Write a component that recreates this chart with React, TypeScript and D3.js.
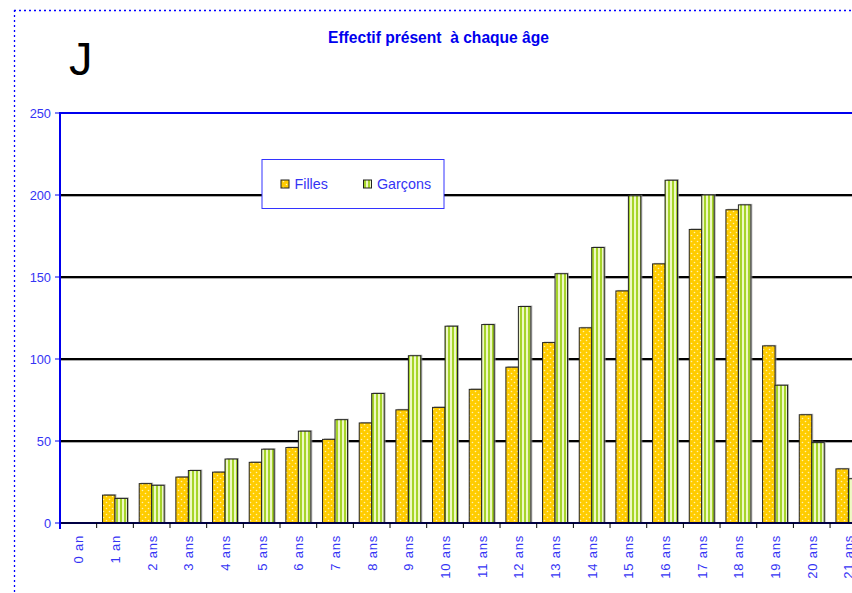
import React from "react";
import * as d3 from "d3";

const categories = ["0 an", "1 an", "2 ans", "3 ans", "4 ans", "5 ans", "6 ans", "7 ans", "8 ans", "9 ans", "10 ans", "11 ans", "12 ans", "13 ans", "14 ans", "15 ans", "16 ans", "17 ans", "18 ans", "19 ans", "20 ans", "21 ans"];
const filles = [0, 17, 24, 28, 31, 37, 46, 51, 61, 69, 70.5, 81.5, 95, 110, 119, 141.5, 158, 179, 191, 108, 66, 33];
const garcons = [0, 15, 23, 32, 39, 45, 56, 63, 79, 102, 120, 121, 132, 152, 168, 199.5, 209, 200, 194, 84, 49, 27];
const yTicks = [0, 50, 100, 150, 200, 250];
const seriesNames = ["Filles", "Garçons"];
const title = "Effectif présent  à chaque âge";

const W = 852;
const H = 593;
const BLUE = "#3434f4";

export default function App() {
  const left = 60;
  const catW = 36.67;
  const x = d3.scaleBand<string>().domain(categories).range([left, left + catW * categories.length]).paddingInner(0).paddingOuter(0);
  const y = d3.scaleLinear().domain([0, 250]).range([523, 113]);
  const bw = x.bandwidth() * 0.34;
  const series = [filles, garcons];
  const fills = ["url(#dots)", "url(#stripes)"];

  return (
    <svg width={W} height={H} style={{ position: "absolute", left: 0, top: 0, fontFamily: "'Liberation Sans', Arial, sans-serif" }}>
      <defs>
        <pattern id="dots" width="6" height="6" patternUnits="userSpaceOnUse">
          <rect width="6" height="6" fill="#FFCC00" />
          <circle cx="1.5" cy="1.5" r="0.8" fill="#FFF3B0" />
          <circle cx="4.5" cy="4.5" r="0.8" fill="#FFF3B0" />
        </pattern>
        <pattern id="stripes" width="4" height="4" patternUnits="userSpaceOnUse">
          <rect width="4" height="4" fill="#EEF8C4" />
          <rect x="0" width="2" height="4" fill="#A6D42A" />
        </pattern>
      </defs>
      <rect width={W} height={H} fill="#fff" />
      {/* dotted frame */}
      <line x1={14} y1={10.5} x2={W} y2={10.5} stroke="#0000ff" strokeWidth={1.3} strokeDasharray="2,3" />
      <line x1={14.5} y1={10} x2={14.5} y2={H} stroke="#0000ff" strokeWidth={1.3} strokeDasharray="2,3" />

      <text x={69} y={75} fontSize={47} fill="#000">J</text>
      <text x={438.5} y={43} fontSize={15.6} fontWeight="bold" fill="#0000EE" textAnchor="middle" style={{ whiteSpace: "pre" }}>{title}</text>

      {/* grid lines */}
      {yTicks.filter(t => t > 0 && t < 250).map(t => (
        <g key={t}>
          <line x1={left} x2={W} y1={y(t) + 1.5} y2={y(t) + 1.5} stroke="#aaa" strokeWidth={1} />
          <line x1={left} x2={W} y1={y(t)} y2={y(t)} stroke="#000" strokeWidth={2} />
        </g>
      ))}
      <line x1={left} x2={W} y1={y(250)} y2={y(250)} stroke="#0000ee" strokeWidth={2} />

      {/* bars */}
      {series.map((vals, si) => (
        <g key={si}>
          {vals.map((v, i) => {
            if (v <= 0) return null;
            const bx = (x(categories[i]) as number) + x.bandwidth() / 2 - bw + si * bw;
            const by = y(v);
            return (
              <g key={i}>
                <rect x={bx + 1.5} y={by - 1} width={bw} height={y(0) - by + 1} fill="#999" opacity={0.7} />
                <rect x={bx} y={by} width={bw} height={y(0) - by} fill={fills[si]} stroke="#222" strokeWidth={1} />
              </g>
            );
          })}
        </g>
      ))}

      {/* x axis */}
      <line x1={left} x2={W} y1={y(0)} y2={y(0)} stroke="#000044" strokeWidth={2} />
      {categories.map((c, i) => (
        <line key={"t" + i} x1={(x(c) as number)} x2={(x(c) as number)} y1={y(0)} y2={y(0) + 5} stroke="#000" strokeWidth={1} />
      ))}
      {categories.map((c) => {
        const cx = (x(c) as number) + x.bandwidth() / 2 + 5;
        return (
          <text key={c} transform={`translate(${cx},535) rotate(-90)`} fontSize={13} letterSpacing={0.8} fill={BLUE} textAnchor="end">{c}</text>
        );
      })}

      {/* y axis */}
      <line x1={left} x2={left} y1={y(250) - 1} y2={y(0) + 6} stroke="#0000ee" strokeWidth={2} />
      {yTicks.map(t => (
        <g key={"y" + t}>
          <line x1={left - 5} x2={left} y1={y(t)} y2={y(t)} stroke="#0000ee" strokeWidth={1} />
          <text x={left - 9} y={y(t) + 4.5} fontSize={12.8} fill={BLUE} textAnchor="end">{t}</text>
        </g>
      ))}

      {/* legend */}
      <rect x={262} y={159.5} width={182} height={49} fill="#fff" stroke="#3333ff" strokeWidth={1} />
      {seriesNames.map((n, i) => {
        const sx = i === 0 ? 281 : 363.5;
        return (
          <g key={n}>
            <rect x={sx} y={180} width={8} height={8} fill={fills[i]} stroke="#222" strokeWidth={1} />
            <text x={sx + 13.5} y={188.5} fontSize={14.3} fill={BLUE}>{n}</text>
          </g>
        );
      })}
    </svg>
  );
}
